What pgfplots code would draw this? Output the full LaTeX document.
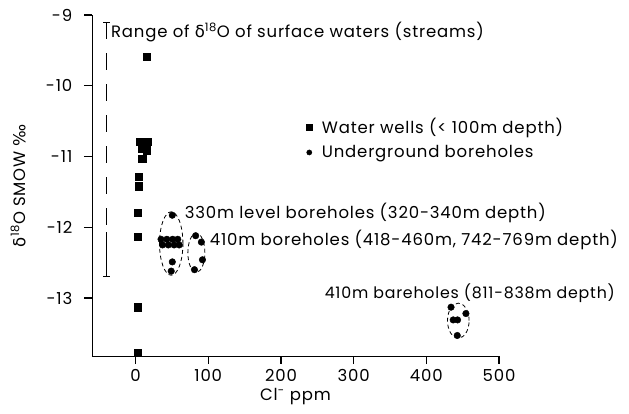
\documentclass[border=0pt]{standalone}
\usepackage{fontspec}
\setmainfont{Poppins}[LetterSpace=5]
\newfontfamily\dv{DejaVu Sans}
\usepackage{pgfplots}
\pgfplotsset{compat=1.18}
\newcommand\fs{\fontsize{16.5}{19}\selectfont}
\begin{document}
\fs
\begin{tikzpicture}
\path (-92pt,-57pt) rectangle (537pt,356pt);
\begin{axis}[
  at={(0pt,0pt)}, anchor=south west,
  scale only axis, width=407pt, height=341pt,
  xmin=-60, xmax=500, ymin=-13.82, ymax=-9,
  axis x line*=bottom, axis y line*=left,
  axis line style={-, line width=0.9pt},
  xmajorticks=true, ymajorticks=true,
  tick align=outside, major tick length=8pt,
  every major tick/.append style={draw=black, line width=0.9pt},
  xtick={0,100,200,300,400,500},
  ytick={-13,-12,-11,-10,-9},
  /pgf/number format/assume math mode=true,
  ticklabel style={font=\fs},
  yticklabel style={xshift=-6pt},
  xlabel={Cl\textsuperscript{-} ppm},
  ylabel={{\dv δ}\textsuperscript{18}O SMOW {\dv ‰}},
  label style={font=\fs},
  xlabel style={yshift=5pt},
  ylabel style={yshift=9pt},
  clip=false,
  legend style={draw=none, fill=none, at={(axis cs:231,-10.40)}, anchor=north west,
    font=\fs, row sep=5pt, column sep=8pt},
  legend cell align=left,
  legend image post style={mark size=2.6pt},
]
\addplot[only marks, mark=square*, mark size=3.6pt, black] coordinates {
(15,-9.59) (5.5,-10.79) (17,-10.79) (8,-10.89) (15,-10.91) (9,-11.03)
(4.5,-11.29) (4.5,-11.42) (3,-11.80) (3,-12.13) (3,-13.13) (3,-13.77)
};
\addlegendentry{Water wells (< 100m depth)}
\addplot[only marks, mark=*, mark size=3.3pt, black] coordinates {
(50.5,-11.83) (35,-12.17) (43,-12.17) (51,-12.17) (58,-12.17)
(37,-12.25) (45,-12.25) (53,-12.25) (60,-12.25) (50.5,-12.49) (49,-12.62)
(82.6,-12.12) (90.5,-12.21) (92,-12.46) (81,-12.6)
(434,-13.13) (454.5,-13.22) (437,-13.31) (443,-13.31) (442.6,-13.53)
};
\addlegendentry{Underground boreholes}
% tick marks (drawn explicitly as well)
\pgfplotsinvokeforeach{0,100,200,300,400,500}{\draw[line width=1pt] (axis cs:#1,-13.82) -- ++(0pt,-8pt);}
\pgfplotsinvokeforeach{-13,-12,-11,-10,-9}{\draw[line width=1pt] (axis cs:-60,#1) -- ++(-8pt,0pt);}
% range bar
\draw[line width=0.9pt, dash pattern=on 17pt off 14pt] (axis cs:-39.5,-9.1) -- (axis cs:-39.5,-12.69);
\draw[line width=0.9pt] (axis cs:-39.5,-9.1) ++(-3.5pt,0pt) -- ++(7pt,0pt);
\draw[line width=0.9pt] (axis cs:-39.5,-12.69) ++(-3.5pt,0pt) -- ++(7pt,0pt);
\draw[line width=0.9pt] (axis cs:-39.5,-12.69) -- ++(0pt,44pt);
% ellipses
\draw[line width=0.8pt, dash pattern=on 4pt off 3pt] (axis cs:49,-12.23) ellipse [x radius=11.7pt, y radius=31.7pt];
\draw[line width=0.8pt, dash pattern=on 4pt off 3pt] (axis cs:83.6,-12.36) ellipse [x radius=8.5pt, y radius=19.5pt];
\draw[line width=0.8pt, dash pattern=on 4pt off 3pt] (axis cs:444,-13.32) ellipse [x radius=10.8pt, y radius=17.5pt];
% annotations
\node[anchor=west, inner sep=0pt] at (axis cs:-34,-9.24) {Range of {\dv δ}\textsuperscript{18}O of surface waters (streams)};
\node[anchor=west, inner sep=0pt] at (axis cs:67.5,-11.8) {330m level boreholes (320-340m depth)};
\node[anchor=west, inner sep=0pt] at (axis cs:102,-12.18) {410m boreholes (418-460m, 742-769m depth)};
\node[anchor=west, inner sep=0pt, font=\fontsize{15.8}{19}\selectfont] at (axis cs:260,-12.93) {410m bareholes (811-838m depth)};
\end{axis}
\end{tikzpicture}
\end{document}
